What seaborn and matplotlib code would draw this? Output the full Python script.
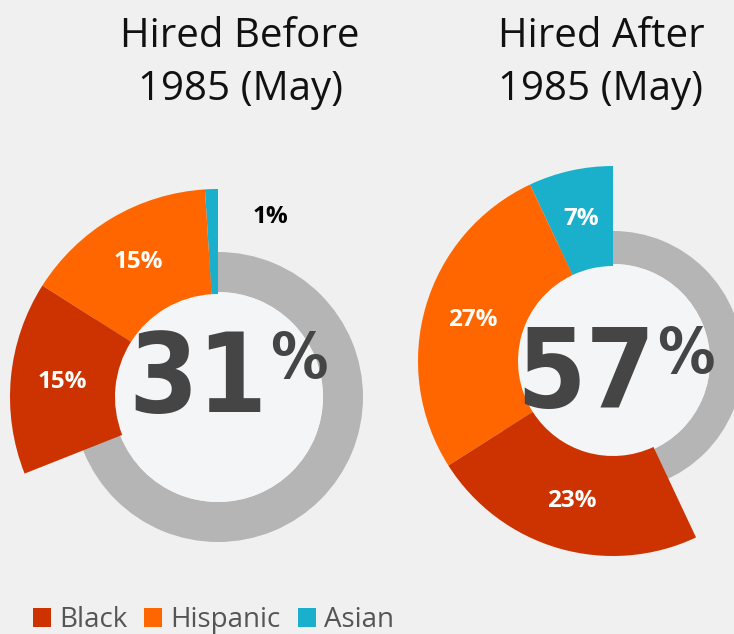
import numpy as np
import matplotlib
matplotlib.use("Agg")
import matplotlib.pyplot as plt
from matplotlib.patches import Patch
import seaborn as sns

# data
groups = ["Black", "Hispanic", "Asian"]
titles = ["Hired Before\n1985 (May)", "Hired After\n1985 (May)"]
hired_before = [15, 15, 1]
hired_after = [23, 27, 7]
totals = ["31", "57"]

sns.set_theme(style="white")
plt.rcParams['font.family'] = ['Open Sans', 'DejaVu Sans']
palette = sns.color_palette(["#cc3300", "#ff6600", "#1ab0cb"])
BG = "#f0f0f0"
GREY = "#b5b5b5"
W, H = 734, 634

# layout in pixels (x from left, y from top)
centers = [(218, 397), (613, 361)]
r_color = [208, 195]
r_grey = [145, 130]
r_inner = [105, 97]
title_x = [240, 601]
num_xy = [(267, 412), (655, 407)]
pct_xy = [(270, 378), (657, 373)]

fig = plt.figure(figsize=(W / 100, H / 100), dpi=100, facecolor=BG)
ax = fig.add_axes([0, 0, 1, 1], facecolor=BG)


def py(y):
    return H - y


for i, vals in enumerate([hired_before, hired_after]):
    cx, cy = centers[i]
    c = (cx, py(cy))
    total = sum(vals)
    # grey remainder ring
    ax.pie([100], radius=r_grey[i], center=c, colors=[GREY], startangle=90,
           wedgeprops=dict(width=r_grey[i] - r_inner[i], linewidth=0), frame=True)
    # inner disc
    ax.pie([100], radius=r_inner[i], center=c, colors=["#f4f5f6"],
           wedgeprops=dict(linewidth=0), frame=True)
    # coloured slices, counterclockwise from 12 o'clock: Asian, Hispanic, Black
    order = [2, 1, 0]
    slice_vals = [vals[k] for k in order] + [100 - total]
    slice_cols = [palette[k] for k in order] + [(0, 0, 0, 0)]
    ax.pie(slice_vals, radius=r_color[i], center=c, colors=slice_cols, startangle=90,
           counterclock=True, wedgeprops=dict(width=r_color[i] - r_inner[i] + 2, linewidth=0),
           frame=True)
    # slice labels
    start = 90.0
    rm = (r_color[i] + r_inner[i]) / 2
    for k in order:
        v = vals[k]
        mid = start + v * 3.6 / 2
        if v < 3:
            ang = np.deg2rad(mid - 18)
            r = 0.9 * r_color[i]
            col = "black"
        else:
            ang = np.deg2rad(mid)
            r = rm
            col = "white"
        ax.text(cx + r * np.cos(ang), py(cy) + r * np.sin(ang), f"{v}%",
                ha="center", va="center", color=col, fontsize=17.5, fontweight="bold")
        start += v * 3.6
    # centre number
    ax.text(num_xy[i][0], py(num_xy[i][1]), totals[i], ha="right", va="baseline",
            fontsize=80, fontweight="bold", fontstretch="condensed", color="#454545",
            family="DejaVu Sans")
    ax.text(pct_xy[i][0], py(pct_xy[i][1]), "%", ha="left", va="baseline",
            fontsize=46, fontweight="bold", fontstretch="condensed", color="#454545",
            family="DejaVu Sans")
    # title
    ax.text(title_x[i], py(100), titles[i], ha="center", va="baseline",
            fontsize=29, color="#111111", linespacing=1.4)

ax.set_xlim(0, W)
ax.set_ylim(0, H)
ax.set_aspect("equal")
ax.axis("off")

handles = [Patch(facecolor=palette[k], edgecolor="none", label=groups[k]) for k in range(3)]
ax.legend(handles=handles, loc="lower left", bbox_to_anchor=(33 / W, 0), ncol=3,
          frameon=False, fontsize=20, handlelength=0.65, handleheight=0.65,
          handletextpad=0.3, columnspacing=0.6, borderpad=0, borderaxespad=0,
          labelcolor="#555555")

fig.savefig("out.png", dpi=100, facecolor=BG)
